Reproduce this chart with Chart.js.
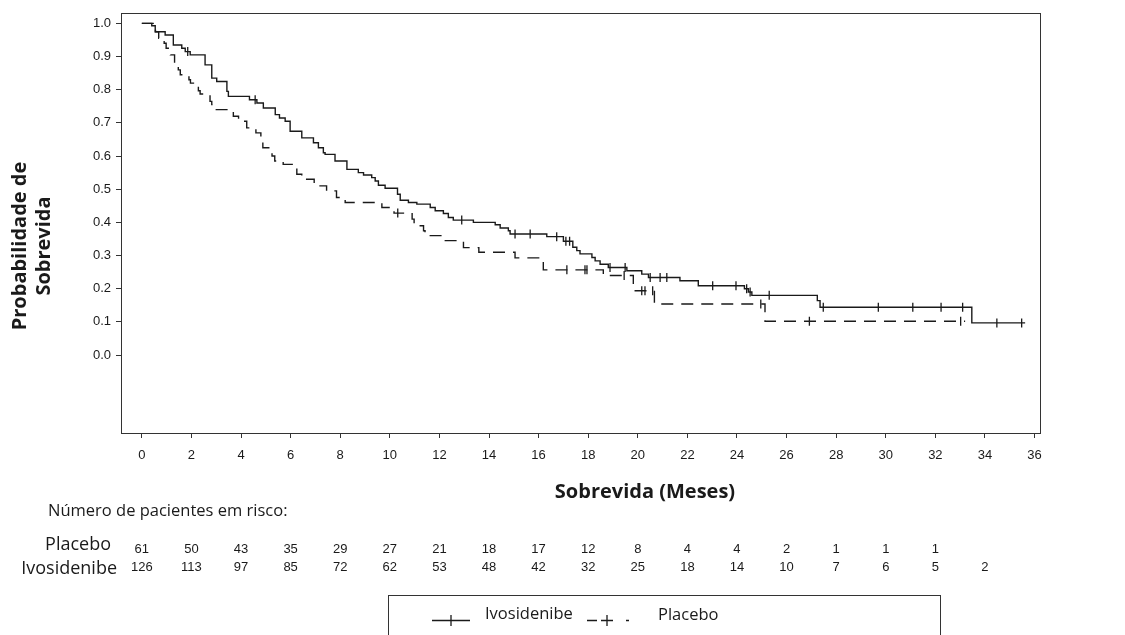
<!DOCTYPE html>
<html>
<head>
<meta charset="utf-8">
<script src="https://cdn.jsdelivr.net/npm/chart.js@4.4.1/dist/chart.umd.min.js"></script>
<style>
  html, body { margin: 0; padding: 0; background: #fff; }
  #wrap { width: 1125px; height: 635px; }
</style>
</head>
<body>
<div id="wrap"><canvas id="km-chart" width="1125" height="635"></canvas></div>
<script>
// tick labels
const xTicks = [0, 2, 4, 6, 8, 10, 12, 14, 16, 18, 20, 22, 24, 26, 28, 30, 32, 34, 36];
const yTicks = [0, 0.1, 0.2, 0.3, 0.4, 0.5, 0.6, 0.7, 0.8, 0.9, 1.0];

// Ivosidenibe curve (event time in months, survival after the step)
const ivoTimes = [0, 0.40, 0.54, 0.94, 1.27, 1.61, 1.75, 1.95, 2.55, 2.82, 3.02, 3.43, 3.49, 4.34, 4.64, 4.90,
  5.38, 5.55, 5.78, 5.98, 6.45, 6.92, 7.12, 7.32, 7.39, 7.79, 8.27, 8.73, 8.94, 9.27, 9.41, 9.54, 9.81, 10.31,
  10.42, 10.75, 11.09, 11.63, 11.83, 12.16, 12.36, 12.56, 13.37, 14.25, 14.45, 14.78, 14.85, 16.33, 17.0,
  17.38, 17.54, 17.67, 18.15, 18.28, 18.48, 18.81, 19.56, 20.16, 20.43, 21.7, 22.44, 24.3, 24.46, 24.6,
  27.24, 27.35, 33.47, 35.62];
const ivoSurv = [1.0, 0.993, 0.975, 0.965, 0.935, 0.925, 0.915, 0.905, 0.875, 0.835, 0.825, 0.795, 0.78, 0.77, 0.76, 0.745,
  0.725, 0.715, 0.705, 0.675, 0.655, 0.64, 0.625, 0.61, 0.605, 0.585, 0.56, 0.55, 0.543, 0.535, 0.525, 0.512, 0.503, 0.485,
  0.467, 0.46, 0.455, 0.445, 0.435, 0.427, 0.415, 0.407, 0.40, 0.393, 0.383, 0.375, 0.365, 0.357, 0.343,
  0.325, 0.315, 0.305, 0.294, 0.284, 0.274, 0.264, 0.254, 0.244, 0.234, 0.224, 0.209, 0.2, 0.19, 0.18,
  0.164, 0.144, 0.097, 0.097];
const ivoCensor = [1.85, 4.57, 12.9, 15.05, 15.66, 16.73, 17.1, 17.25, 18.88, 19.49, 20.5, 20.9, 21.17, 23.02,
  23.96, 24.39, 24.53, 25.3, 27.48, 29.7, 31.09, 32.23, 33.1, 34.48, 35.48];

// Placebo curve
const plaTimes = [0, 0.55, 0.68, 0.90, 0.98, 1.15, 1.32, 1.47, 1.55, 1.90, 1.96, 2.28, 2.35, 2.75, 2.82, 2.92,
  3.69, 3.90, 4.23, 4.60, 4.80, 4.88, 5.25, 5.36, 5.70, 6.25, 6.45, 6.95, 7.45, 7.85, 8.20, 9.68, 10.17, 10.90,
  10.98, 11.36, 11.42, 12.10, 12.97, 13.59, 15.05, 16.19, 18.61, 19.82, 20.67, 25.13, 33.2];
const plaSurv = [1.0, 0.975, 0.955, 0.94, 0.925, 0.905, 0.88, 0.86, 0.845, 0.83, 0.82, 0.797, 0.787, 0.765, 0.755, 0.74,
  0.72, 0.705, 0.685, 0.67, 0.655, 0.625, 0.6, 0.585, 0.575, 0.545, 0.53, 0.51, 0.495, 0.475, 0.46, 0.445, 0.428, 0.41,
  0.39, 0.375, 0.36, 0.345, 0.324, 0.31, 0.293, 0.257, 0.24, 0.194, 0.154, 0.102, 0.102];
const plaCensor = [10.32, 17.14, 17.87, 17.95, 19.45, 20.16, 20.29, 20.6, 24.96, 26.92, 33.02];

// number at risk
const riskTimes = [0, 2, 4, 6, 8, 10, 12, 14, 16, 18, 20, 22, 24, 26, 28, 30, 32, 34];
const plaRisk = [61, 50, 43, 35, 29, 27, 21, 18, 17, 12, 8, 4, 4, 2, 1, 1, 1];
const ivoRisk = [126, 113, 97, 85, 72, 62, 53, 48, 42, 32, 25, 18, 14, 10, 7, 6, 5, 2];

const ink = '#1a1a1a';
const titleFont = '"Open Sans", "Liberation Sans", sans-serif';
const numFont = '"Liberation Sans", Arial, sans-serif';

function survAt(times, surv, t) {
  let s = surv[0];
  for (let i = 0; i < times.length; i++) {
    if (times[i] <= t) s = surv[i];
  }
  return s;
}

function toPoints(times, surv) {
  return times.map((t, i) => ({ x: t, y: surv[i] }));
}

function censorPoints(censor, times, surv) {
  return censor.map(t => ({ x: t, y: survAt(times, surv, t) }));
}

// box, axis titles, risk table and legend
const extrasPlugin = {
  id: 'extras',
  afterDraw(chart) {
    const ctx = chart.ctx;
    const area = chart.chartArea;
    const xScale = chart.scales.x;
    ctx.save();

    ctx.strokeStyle = '#333';
    ctx.lineWidth = 1;
    ctx.strokeRect(Math.round(area.left) - 0.5, Math.round(area.top) + 0.5,
      Math.round(area.right - area.left), Math.round(area.bottom - area.top));

    ctx.fillStyle = ink;
    ctx.textBaseline = 'middle';

    // y title
    ctx.font = 'bold 20px ' + titleFont;
    ctx.textAlign = 'center';
    ctx.save();
    ctx.translate(20, 246);
    ctx.rotate(-Math.PI / 2);
    ctx.fillText('Probabilidade de', 0, 0);
    ctx.restore();
    ctx.save();
    ctx.translate(44, 246);
    ctx.rotate(-Math.PI / 2);
    ctx.fillText('Sobrevida', 0, 0);
    ctx.restore();

    // x title
    ctx.font = 'bold 20px ' + titleFont;
    ctx.fillText('Sobrevida (Meses)', 645, 492);

    // risk table
    ctx.textAlign = 'left';
    ctx.font = '16.5px ' + titleFont;
    ctx.fillText('Número de pacientes em risco:', 48, 511);
    ctx.textAlign = 'right';
    ctx.font = '18px ' + titleFont;
    ctx.fillText('Placebo', 111, 545);
    ctx.fillText('Ivosidenibe', 117, 569);

    ctx.textAlign = 'center';
    ctx.font = '13px ' + numFont;
    plaRisk.forEach((n, i) => {
      ctx.fillText(String(n), xScale.getPixelForValue(riskTimes[i]), 549);
    });
    ivoRisk.forEach((n, i) => {
      ctx.fillText(String(n), xScale.getPixelForValue(riskTimes[i]), 567);
    });

    // legend
    ctx.strokeStyle = '#333';
    ctx.lineWidth = 1;
    ctx.strokeRect(388.5, 595.5, 552, 60);
    ctx.strokeStyle = ink;
    ctx.lineWidth = 1.3;
    ctx.beginPath();
    ctx.moveTo(432, 620.5); ctx.lineTo(470, 620.5);
    ctx.moveTo(451, 615); ctx.lineTo(451, 626);
    ctx.moveTo(587, 620.5); ctx.lineTo(597, 620.5);
    ctx.moveTo(601, 620.5); ctx.lineTo(613, 620.5);
    ctx.moveTo(607, 615); ctx.lineTo(607, 626);
    ctx.moveTo(626, 620.5); ctx.lineTo(629, 620.5);
    ctx.stroke();

    ctx.textAlign = 'left';
    ctx.font = '16.5px ' + titleFont;
    ctx.fillText('Ivosidenibe', 485, 614);
    ctx.fillText('Placebo', 658, 615);

    ctx.restore();
  }
};

const kmChart = new Chart(document.getElementById('km-chart'), {
  type: 'line',
  data: {
    datasets: [
      {
        label: 'Ivosidenibe',
        data: toPoints(ivoTimes, ivoSurv),
        stepped: 'before',
        borderColor: ink,
        borderWidth: 1.4,
        pointRadius: 0,
        fill: false
      },
      {
        label: 'Placebo',
        data: toPoints(plaTimes, plaSurv),
        stepped: 'before',
        borderColor: ink,
        borderWidth: 1.4,
        borderDash: [12, 8],
        pointRadius: 0,
        fill: false
      },
      {
        label: 'Ivosidenibe censurado',
        data: censorPoints(ivoCensor, ivoTimes, ivoSurv),
        showLine: false,
        pointStyle: 'line',
        rotation: 90,
        pointRadius: 4.5,
        borderColor: ink,
        borderWidth: 1.3
      },
      {
        label: 'Placebo censurado',
        data: censorPoints(plaCensor, plaTimes, plaSurv),
        showLine: false,
        pointStyle: 'line',
        rotation: 90,
        pointRadius: 4.5,
        borderColor: ink,
        borderWidth: 1.3
      }
    ]
  },
  options: {
    responsive: false,
    animation: false,
    devicePixelRatio: 1,
    layout: { padding: { left: 0, top: 11, right: 84, bottom: 130 } },
    plugins: {
      legend: { display: false },
      tooltip: { enabled: false }
    },
    scales: {
      x: {
        type: 'linear',
        min: -0.8,
        max: 36.26,
        afterBuildTicks: scale => { scale.ticks = xTicks.map(v => ({ value: v })); },
        afterFit: scale => { scale.height = 72; },
        border: { display: false },
        grid: { drawOnChartArea: false, drawTicks: true, tickLength: 5, color: '#333' },
        ticks: {
          color: ink,
          padding: 10,
          maxRotation: 0,
          autoSkip: false,
          font: { family: numFont, size: 13 },
          callback: v => String(v)
        }
      },
      y: {
        type: 'linear',
        min: -0.235,
        max: 1.032,
        afterBuildTicks: scale => { scale.ticks = yTicks.map(v => ({ value: v })); },
        afterFit: scale => { scale.width = 122; },
        border: { display: false },
        grid: { drawOnChartArea: false, drawTicks: true, tickLength: 6, color: '#333' },
        ticks: {
          color: ink,
          padding: 5,
          autoSkip: false,
          font: { family: numFont, size: 13 },
          callback: v => v.toFixed(1)
        }
      }
    }
  },
  plugins: [extrasPlugin]
});
</script>
</body>
</html>
